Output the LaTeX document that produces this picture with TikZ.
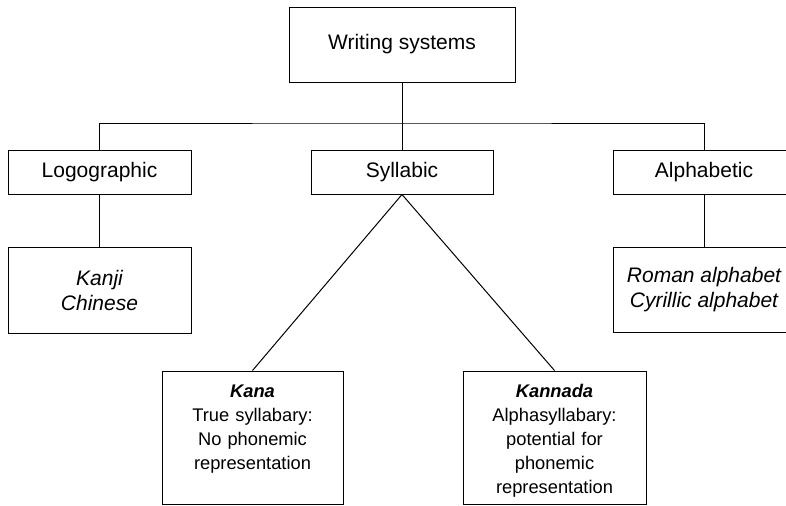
\documentclass[tikz,border=0pt]{standalone}
\usepackage{fontspec}
\setsansfont{Liberation Sans}
\usepackage{tikz}
\usetikzlibrary{positioning}

\begin{document}
\begin{tikzpicture}[x=0.5pt, y=-0.5pt, line width=0.5pt,
  main node/.style={rectangle,draw,inner sep=0pt,align=center,
    font=\sffamily\fontsize{10.5}{12.5}\selectfont},
  script node/.style={main node,font=\sffamily\itshape\fontsize{10.5}{12.5}\selectfont},
  example node/.style={rectangle,draw,inner sep=0pt,align=center,
    text width=90pt,text height=13.2pt,text depth=53.3pt,
    font=\sffamily\fontsize{9.15}{12}\selectfont}]

\clip (0,0) rectangle (786,505);

\node[main node, minimum width=113pt, minimum height=37.5pt] (W) at (402,44.5) {Writing systems};
\node[main node, minimum width=91.5pt, minimum height=22pt] (Log) at (99.5,172) {Logographic};
\node[main node, minimum width=91pt, minimum height=22pt] (Syl) at (402,172) {Syllabic};
\node[main node, minimum width=91pt, minimum height=22pt] (Alph) at (704,172) {Alphabetic};
\node[script node, minimum width=91.5pt, minimum height=43pt] (Kanji) at (99.5,290) {Kanji\\Chinese};
\node[script node, minimum width=91pt, minimum height=42.5pt] (Rom) at (704,289.5) {Roman alphabet\\Cyrillic alphabet};
\node[example node, minimum width=90.5pt] (Kana) at (252.5,437.5)
  {\textbf{\textit{Kana}}\\True syllabary:\\No phonemic\\representation};
\node[example node, minimum width=91.5pt] (Kan) at (554.5,437.5)
  {\textbf{\textit{Kannada}}\\Alphasyllabary:\\potential for\\phonemic\\representation};

\coordinate (hub) at (402,123);

\draw (W.south) -- (Syl.north);
\draw (Log.north) |- (hub) -| (Alph.north);
\draw (Log.south) -- (Kanji.north);
\draw (Alph.south) -- (Rom.north);
\draw (Syl.south) -- (Kana.north);
\draw (Syl.south) -- (Kan.north);

\end{tikzpicture}
\end{document}
